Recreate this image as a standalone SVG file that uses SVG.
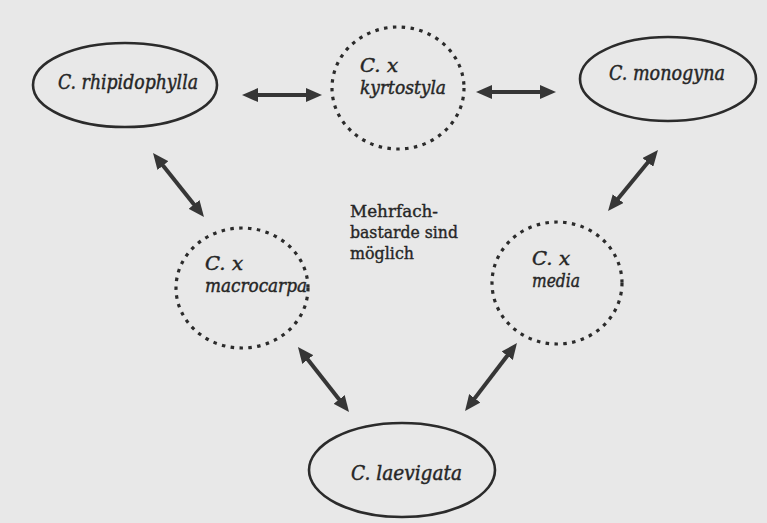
<svg xmlns="http://www.w3.org/2000/svg" width="767" height="523" viewBox="0 0 767 523">
<defs>
<style>
.bg{fill:#e8e8e8}
.sp{fill:none;stroke:#2b2b2b;stroke-width:2.6}
.hy{fill:none;stroke:#2b2b2b;stroke-width:3.2;stroke-dasharray:3.5 5.4;stroke-linecap:butt}
.lab{font-family:"DejaVu Serif","Liberation Serif",serif;font-style:italic;font-size:20px;fill:#262626;stroke:#262626;stroke-width:0.45}
.lab2{font-size:18.5px}
.mid{font-family:"DejaVu Serif","Liberation Serif",serif;font-size:17.5px;fill:#262626;stroke:#262626;stroke-width:0.4}
.ar{fill:none;stroke:#363636;stroke-width:4;marker-start:url(#ah);marker-end:url(#ah)}
</style>
<marker id="ah" markerUnits="userSpaceOnUse" markerWidth="16" markerHeight="14" refX="8" refY="7" orient="auto-start-reverse" viewBox="0 0 16 14">
<path d="M0,0 L16,7 L0,14 z" fill="#363636"/>
</marker>
</defs>
<rect class="bg" x="0" y="0" width="767" height="523"/>

<g id="rhipidophylla">
<ellipse class="sp" cx="125" cy="85" rx="92" ry="42"/>
<text class="lab" x="58" y="89" textLength="140" lengthAdjust="spacingAndGlyphs">C. rhipidophylla</text>
</g>
<g id="kyrtostyla">
<ellipse class="hy" cx="398" cy="88" rx="66" ry="61"/>
<text class="lab lab2" x="360" y="71.5" textLength="38" lengthAdjust="spacingAndGlyphs">C. x</text>
<text class="lab lab2" x="360" y="93.5" textLength="86" lengthAdjust="spacingAndGlyphs">kyrtostyla</text>
</g>
<g id="monogyna">
<ellipse class="sp" cx="668" cy="79" rx="88" ry="42"/>
<text class="lab" x="609" y="80" textLength="116" lengthAdjust="spacingAndGlyphs">C. monogyna</text>
</g>
<g id="macrocarpa">
<ellipse class="hy" cx="242" cy="288" rx="66" ry="60"/>
<text class="lab lab2" x="205" y="269.5" textLength="38" lengthAdjust="spacingAndGlyphs">C. x</text>
<text class="lab lab2" x="205" y="292" textLength="102" lengthAdjust="spacingAndGlyphs">macrocarpa</text>
</g>
<g id="media">
<ellipse class="hy" cx="557" cy="283" rx="65" ry="61"/>
<text class="lab lab2" x="532" y="264.5" textLength="38" lengthAdjust="spacingAndGlyphs">C. x</text>
<text class="lab lab2" x="532" y="287" textLength="48" lengthAdjust="spacingAndGlyphs">media</text>
</g>
<g id="laevigata">
<ellipse class="sp" cx="402" cy="470" rx="93" ry="47"/>
<text class="lab" x="351" y="480" textLength="111" lengthAdjust="spacingAndGlyphs">C. laevigata</text>
</g>
<g id="note">
<text class="mid" x="350" y="216.5" textLength="88" lengthAdjust="spacingAndGlyphs">Mehrfach-</text>
<text class="mid" x="350" y="237.5" textLength="108" lengthAdjust="spacingAndGlyphs">bastarde sind</text>
<text class="mid" x="350" y="258.5" textLength="64" lengthAdjust="spacingAndGlyphs">möglich</text>
</g>

<g id="connectors">
<path class="ar" d="M250,95 L314,95"/>
<path class="ar" d="M484,92 L548,92"/>
<path class="ar" d="M158,159.3 L199,210.7"/>
<path class="ar" d="M652.9,156.2 L613.1,204.8"/>
<path class="ar" d="M302.9,353.3 L344.1,405.7"/>
<path class="ar" d="M512.1,349.4 L469.9,404.6"/>
</g>
</svg>
